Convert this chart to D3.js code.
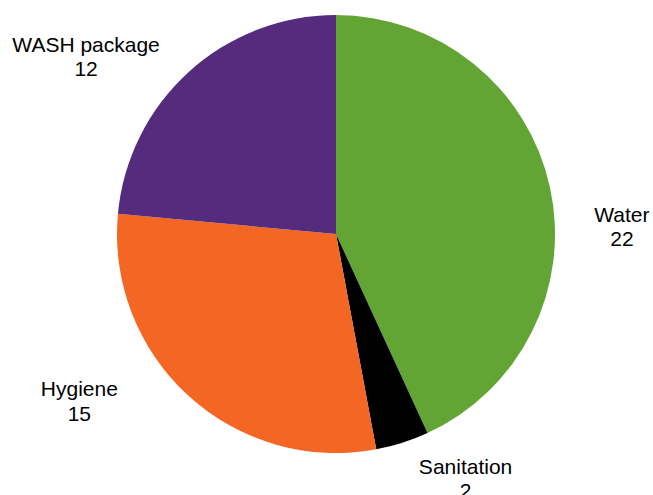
<!DOCTYPE html>
<html lang="en">
<head>
<meta charset="UTF-8">
<title>WASH pie</title>
<script src="https://cdn.jsdelivr.net/npm/d3@7"></script>
<style>
    body { margin: 0; background: #fff; }
    svg text { font-family: "Liberation Sans", Arial, sans-serif; font-size: 21px; fill: #000; }
</style>
</head>
<body>
<svg width="653" height="495"></svg>
<script>
    // data
    var categories = ["Water", "Sanitation", "Hygiene", "WASH package"];
    var values = [22, 2, 15, 12];
    var colors = ["#63a535", "#000000", "#f36623", "#552b7d"];
    // label placement (polar, degrees clockwise from top, radius in px from centre)
    var labelAngle = [88.4, 152, 237, 305.5];
    var labelRadius = [286, 276, 306, 307];

    var svg = d3.select("svg");
    var cx = 336, cy = 234, r = 219;
    var g = svg.append("g").attr("transform", "translate(" + cx + "," + cy + ")");

    var pie = d3.pie().sort(null).value(function (d) { return d; });
    var arc = d3.arc().innerRadius(0).outerRadius(r);
    var arcs = pie(values);

    g.selectAll("path")
        .data(arcs)
        .enter()
        .append("path")
        .attr("d", arc)
        .attr("fill", function (d, i) { return colors[i]; });

    var labels = g.selectAll(".lbl")
        .data(arcs)
        .enter()
        .append("text")
        .attr("class", "lbl")
        .attr("text-anchor", "middle")
        .attr("transform", function (d, i) {
            var a = labelAngle[i] * Math.PI / 180;
            return "translate(" + (labelRadius[i] * Math.sin(a)) + "," + (-labelRadius[i] * Math.cos(a)) + ")";
        });
    labels.append("tspan")
        .attr("x", 0)
        .attr("dy", "-0.2em")
        .text(function (d, i) { return categories[i]; });
    labels.append("tspan")
        .attr("x", 0)
        .attr("dy", "1.15em")
        .text(function (d) { return d.data; });
</script>
</body>
</html>
